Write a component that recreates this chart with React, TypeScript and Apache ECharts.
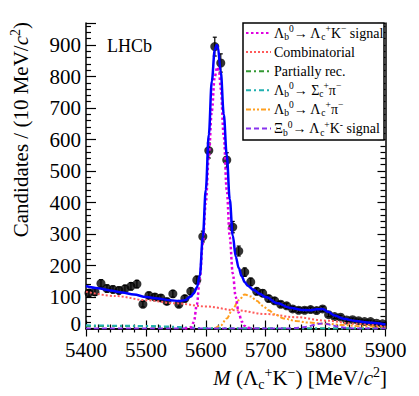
import React, { useEffect, useRef } from 'react';
import * as echarts from 'echarts';

// ---- Data ----
const massBins = [
  5405, 5415, 5425, 5435, 5445, 5455, 5465, 5475, 5485, 5495,
  5505, 5515, 5525, 5535, 5545, 5555, 5565, 5575, 5585, 5595,
  5605, 5615, 5625, 5635, 5645, 5655, 5665, 5675, 5685, 5695,
  5705, 5715, 5725, 5735, 5745, 5755, 5765, 5775, 5785, 5795,
  5805, 5815, 5825, 5835, 5845, 5855, 5865, 5875, 5885, 5895,
];
const counts = [
  113, 116, 143, 127, 124, 121, 126, 134, 141, 77,
  105, 100, 97, 86, 110, 77, 95, 118, 154, 292,
  565, 895, 843, 535, 322, 246, 179, 148, 118, 112,
  95, 88, 77, 72, 62, 58, 58, 60, 57, 62,
  44, 38, 36, 27, 28, 25, 22, 22, 17, 15,
];

const totalFit: [number, number][] = [
  [5400, 135], [5420, 128], [5440, 121], [5460, 114], [5480, 108], [5500, 100],
  [5520, 95], [5540, 90], [5555, 87], [5565, 90], [5575, 102], [5580, 112],
  [5585, 130], [5590, 168], [5595, 290], [5600, 440], [5605, 615], [5610, 785],
  [5615, 885], [5618, 900], [5620, 895], [5625, 815], [5630, 680], [5635, 550],
  [5640, 410], [5645, 295], [5650, 228], [5655, 192], [5660, 166], [5665, 147],
  [5670, 136], [5680, 122], [5690, 110], [5700, 100], [5720, 80], [5740, 66],
  [5760, 59], [5775, 58], [5785, 61], [5795, 62], [5805, 52], [5815, 41],
  [5830, 31], [5850, 24], [5870, 19], [5900, 13],
];
const signalLb: [number, number][] = [
  [5565, 0], [5570, 1], [5575, 4], [5580, 20], [5585, 75], [5590, 160], [5595, 270],
  [5600, 400], [5605, 545], [5610, 690], [5615, 800], [5619, 830], [5622, 820],
  [5625, 760], [5630, 610], [5635, 440], [5640, 290], [5645, 175], [5650, 100],
  [5655, 50], [5660, 22], [5665, 8], [5670, 2], [5680, 0],
];
const combinatorial: [number, number][] = [
  [5400, 117], [5450, 103], [5500, 90], [5550, 80], [5600, 70], [5650, 58],
  [5700, 46], [5750, 36], [5800, 25], [5850, 15], [5900, 6],
];
const partiallyRec: [number, number][] = [
  [5400, 8], [5450, 8], [5500, 7], [5530, 5], [5560, 2], [5580, 0], [5900, 0],
];
const sigmaCPi: [number, number][] = [
  [5400, 10], [5450, 9], [5500, 8], [5540, 6], [5570, 3], [5600, 1], [5650, 0], [5900, 0],
];
const lambdaCPi: [number, number][] = [
  [5615, 0], [5625, 10], [5635, 32], [5645, 62], [5655, 90], [5665, 108], [5675, 102],
  [5685, 88], [5695, 72], [5705, 58], [5715, 45], [5730, 32], [5750, 24], [5770, 19],
  [5800, 15], [5830, 11], [5860, 7], [5900, 3],
];
const xiBSignal: [number, number][] = [
  [5400, 0], [5740, 0], [5755, 2], [5770, 6], [5780, 11], [5790, 15], [5795, 16],
  [5800, 15], [5810, 11], [5820, 6], [5835, 2], [5850, 0], [5900, 0],
];

const xTicks = { min: 5400, max: 5900, interval: 100 };
const yTicks = { min: 0, max: 970, interval: 100 };

const SERIF = '"Liberation Serif", "DejaVu Serif", serif';

const legendRows = [
  { text: '{m|Λ}{sub|b}{sup|0}{m|→ Λ}{sub|c}{sup|+}{m|K}{sup|−}{m| signal}', color: '#e000e0', dash: [2.5, 2.5] },
  { text: '{m|Combinatorial}', color: '#ff5a5a', dash: [2, 2] },
  { text: '{m|Partially rec.}', color: '#339933', dash: [5, 3, 2, 3] },
  { text: '{m|Λ}{sub|b}{sup|0}{m|→ Σ}{sub|c}{sup|+}{m|π}{sup|−}', color: '#20b0b0', dash: [5, 3, 2, 3] },
  { text: '{m|Λ}{sub|b}{sup|0}{m|→ Λ}{sub|c}{sup|+}{m|π}{sup|−}', color: '#ffa020', dash: [5, 2, 2, 2, 2, 2] },
  { text: '{m|Ξ}{sub|b}{sup|0}{m|→ Λ}{sub|c}{sup|+}{m|K}{sup|-}{m| signal}', color: '#8833ee', dash: [5, 3] },
];

export default function App() {
  const ref = useRef<HTMLDivElement>(null);
  useEffect(() => {
    const chart = echarts.init(ref.current!, null, { renderer: 'svg' });

    const legendRich = {
      m: { fontFamily: SERIF, fontSize: 14, lineHeight: 18, verticalAlign: 'middle', fill: '#000' },
      sup: { fontFamily: SERIF, fontSize: 9.5, lineHeight: 10, verticalAlign: 'top', fill: '#000' },
      sub: { fontFamily: SERIF, fontSize: 9.5, lineHeight: 10, verticalAlign: 'bottom', fill: '#000' },
    };
    const titleRich = {
      m: { fontFamily: SERIF, fontSize: 21, lineHeight: 26, verticalAlign: 'middle', fill: '#000' },
      i: { fontFamily: SERIF, fontSize: 21, lineHeight: 26, verticalAlign: 'middle', fontStyle: 'italic', fill: '#000' },
      sup: { fontFamily: SERIF, fontSize: 14, lineHeight: 14, verticalAlign: 'top', fill: '#000' },
      sub: { fontFamily: SERIF, fontSize: 14, lineHeight: 14, verticalAlign: 'bottom', fill: '#000' },
    };

    const legendTop = 23;
    const rowH = 19.1;
    const legendGraphics: any[] = [
      {
        type: 'rect',
        shape: { x: 243, y: legendTop, width: 141, height: 117 },
        style: { fill: '#fff', stroke: '#000', lineWidth: 1.5 },
        z: 10,
      },
    ];
    legendRows.forEach((r, i) => {
      const cy = legendTop + 10 + i * rowH;
      legendGraphics.push({
        type: 'line',
        shape: { x1: 246, y1: cy, x2: 271, y2: cy },
        style: { stroke: r.color, lineWidth: 2, lineDash: r.dash },
        z: 11,
      });
      legendGraphics.push({
        type: 'text',
        x: 274,
        y: cy,
        style: { text: r.text, rich: legendRich, align: 'left', verticalAlign: 'middle' },
        z: 11,
      });
    });

    const axisCommon = {
      axisLine: { show: true, lineStyle: { color: '#000', width: 1.5 } },
      splitLine: { show: false },
    };

    const lineSeries = (name: string, data: [number, number][], color: string, width: number, type: any, z: number) => ({
      name,
      type: 'line',
      data,
      showSymbol: false,
      symbol: 'none',
      smooth: 0.35,
      smoothMonotone: 'x',
      lineStyle: { color, width, type },
      z,
      silent: true,
    });

    const option: any = {
      animation: false,
      backgroundColor: '#fff',
      grid: { left: 86, right: 33.5, top: 23, bottom: 67.5, containLabel: false },
      xAxis: [
        {
          type: 'value',
          position: 'bottom',
          ...xTicks,
          ...axisCommon,
          axisTick: { show: true, inside: true, length: 8, lineStyle: { color: '#000', width: 1.2 } },
          minorTick: { show: true, splitNumber: 5, length: 4, lineStyle: { color: '#000', width: 1.2 } },
          axisLabel: {
            color: '#000',
            fontFamily: SERIF,
            fontSize: 21,
            margin: 11,
            lineHeight: 21,
            formatter: (v: number) => String(v),
          },
        },
        {
          type: 'value',
          position: 'top',
          ...xTicks,
          ...axisCommon,
          axisTick: { show: true, inside: true, length: 8, lineStyle: { color: '#000', width: 1.2 } },
          minorTick: { show: true, splitNumber: 5, length: 4, lineStyle: { color: '#000', width: 1.2 } },
          axisLabel: { show: false },
        },
      ],
      yAxis: [
        {
          type: 'value',
          position: 'left',
          ...yTicks,
          ...axisCommon,
          axisTick: { show: true, inside: true, length: 10, lineStyle: { color: '#000', width: 1.2 } },
          minorTick: { show: true, splitNumber: 5, length: 5, lineStyle: { color: '#000', width: 1.2 } },
          axisLabel: {
            color: '#000',
            fontFamily: SERIF,
            fontSize: 21,
            margin: 5,
            lineHeight: 16,
            formatter: (v: number) => (v === 0 ? '{z|0}' : v % 100 === 0 ? String(v) : ''),
            rich: {
              z: { fontFamily: SERIF, fontSize: 21, color: '#000', padding: [0, 0, 10, 0] },
            },
          },
        },
        {
          type: 'value',
          position: 'right',
          ...yTicks,
          ...axisCommon,
          axisTick: { show: true, inside: true, length: 8, lineStyle: { color: '#000', width: 1.2 } },
          minorTick: { show: true, splitNumber: 5, length: 5, lineStyle: { color: '#000', width: 1.2 } },
          axisLabel: { show: false },
        },
      ],
      series: [
        {
          name: 'errors',
          type: 'custom',
          z: 2,
          silent: true,
          renderItem: (_params: any, api: any) => {
            const x = api.value(0);
            const lo = api.value(1);
            const hi = api.value(2);
            const p1 = api.coord([x, lo]);
            const p2 = api.coord([x, hi]);
            const st = { stroke: '#000', lineWidth: 1.2 };
            return {
              type: 'group',
              children: [
                { type: 'line', shape: { x1: p1[0], y1: p1[1], x2: p2[0], y2: p2[1] }, style: st },
                { type: 'line', shape: { x1: p1[0] - 2, y1: p1[1], x2: p1[0] + 2, y2: p1[1] }, style: st },
                { type: 'line', shape: { x1: p2[0] - 2, y1: p2[1], x2: p2[0] + 2, y2: p2[1] }, style: st },
              ],
            };
          },
          encode: { x: 0, y: [1, 2] },
          data: massBins.map((m, i) => [m, counts[i] - Math.sqrt(counts[i]), counts[i] + Math.sqrt(counts[i])]),
        },
        {
          name: 'Data',
          type: 'scatter',
          data: massBins.map((m, i) => [m, counts[i]]),
          symbol: 'circle',
          symbolSize: 9,
          itemStyle: { color: '#000' },
          z: 3,
          silent: true,
        },
        lineSeries('partially', partiallyRec, '#339933', 2, [5, 3, 2, 3], 4),
        lineSeries('sigmac', sigmaCPi, '#20b0b0', 2, [5, 3, 2, 3], 4),
        lineSeries('comb', combinatorial, '#ff5a5a', 2, [2, 2], 5),
        lineSeries('lcpi', lambdaCPi, '#ffa020', 2, [5, 2, 2, 2, 2, 2], 5),
        lineSeries('xib', xiBSignal, '#8833ee', 2, [5, 3], 5),
        lineSeries('signal', signalLb, '#e000e0', 2.5, [2.5, 2.5], 6),
        lineSeries('total', totalFit, '#0000ff', 2.5, 'solid', 7),
      ],
      graphic: [
        {
          type: 'text',
          x: 107,
          y: 46,
          style: { text: 'LHCb', fontFamily: SERIF, fontSize: 18, fill: '#000', align: 'left', verticalAlign: 'middle' },
          z: 10,
        },
        {
          type: 'text',
          x: 387,
          y: 378,
          style: {
            text: '{i|M}{m| (Λ}{sub|c}{sup|+}{m|K}{sup|−}{m|) [MeV/}{i|c}{sup|2}{m|]}',
            rich: titleRich,
            align: 'right',
            verticalAlign: 'middle',
          },
          z: 10,
        },
        {
          type: 'text',
          x: 21,
          y: 22,
          rotation: Math.PI / 2,
          style: {
            text: '{m|Candidates / (10 MeV/}{i|c}{sup|2}{m|)}',
            rich: titleRich,
            align: 'right',
            verticalAlign: 'middle',
          },
          z: 10,
        },
        ...legendGraphics,
      ],
    };

    chart.setOption(option);
    return () => chart.dispose();
  }, []);

  return (
    <div
      ref={ref}
      style={{ position: 'fixed', left: 0, top: 0, width: 419, height: 396, background: '#fff' }}
    />
  );
}
